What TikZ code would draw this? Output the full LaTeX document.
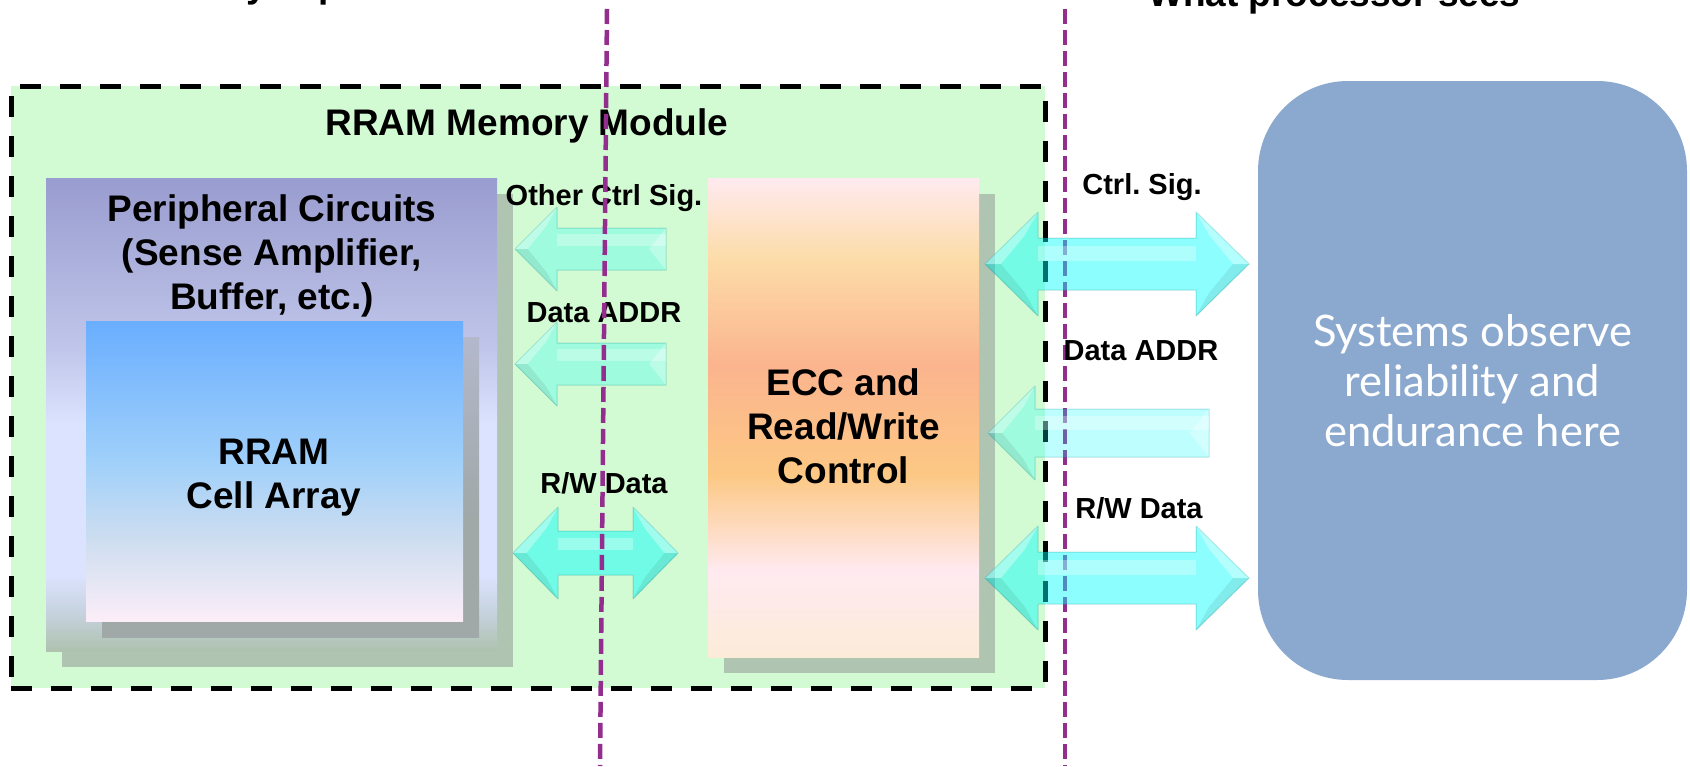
\documentclass[tikz,border=0pt]{standalone}
\usepackage{fontspec}
\setmainfont{Liberation Sans}
\newfontfamily\sysfont{Lato}
\usetikzlibrary{calc}
\frenchspacing

\definecolor{modgreen}{HTML}{D3FBD3}
\definecolor{shadowgreen}{HTML}{B0C5B1}
\definecolor{divider}{HTML}{932E8F}
\definecolor{sysblue}{HTML}{8BA9CF}
\definecolor{flow}{HTML}{00FCFC}
% peripheral block gradient
\definecolor{pA}{HTML}{999CCF}
\definecolor{pB}{HTML}{C0C6EA}
\definecolor{pC}{HTML}{DCE3FE}
\definecolor{pD}{HTML}{C6D2DE}
\definecolor{pE}{HTML}{AEC2AF}
% cell array gradient
\definecolor{cA}{HTML}{6AAEFF}
\definecolor{cB}{HTML}{A0D0FA}
\definecolor{cC}{HTML}{CCDDF0}
\definecolor{cD}{HTML}{FCEEF8}
% cell array shadow
\definecolor{sA}{HTML}{B4B8CC}
\definecolor{sB}{HTML}{A0A8A8}
% ECC block gradient
\definecolor{eA}{HTML}{FFEAF0}
\definecolor{eB}{HTML}{FCDCA8}
\definecolor{eC}{HTML}{FBB48E}
\definecolor{eD}{HTML}{FCC884}
\definecolor{eE}{HTML}{FFEAF0}
\definecolor{eF}{HTML}{FCEBD8}

\pgfdeclareverticalshading{periphfade}{100bp}{color(0bp)=(pE); color(25bp)=(pE); color(29bp)=(pD); color(33bp)=(pC); color(49bp)=(pC); color(57bp)=(pB); color(75bp)=(pA); color(100bp)=(pA)}
\pgfdeclareverticalshading{cellfade}{100bp}{color(0bp)=(cD); color(25bp)=(cD); color(39bp)=(cC); color(51.5bp)=(cB); color(75bp)=(cA); color(100bp)=(cA)}
\pgfdeclareverticalshading{cellshadowfade}{100bp}{color(0bp)=(sB); color(25bp)=(sB); color(45bp)=(sB); color(75bp)=(sA); color(100bp)=(sA)}
\pgfdeclareverticalshading{eccfade}{100bp}{color(0bp)=(eF); color(25bp)=(eF); color(34bp)=(eE); color(44bp)=(eD); color(55.5bp)=(eC); color(66.5bp)=(eB); color(75bp)=(eA); color(100bp)=(eA)}

\tikzset{
  lbl/.style={font=\bfseries\fontsize{29}{34}\selectfont, inner sep=0pt, anchor=base},
  heading/.style={font=\bfseries\fontsize{37}{44}\selectfont, inner sep=0pt},
  blocktext/.style={font=\bfseries\fontsize{37}{44}\selectfont, align=center, inner sep=0pt},
  panel/.style={anchor=north west, inner sep=0pt, outer sep=0pt},
  divline/.style={draw=divider, line width=4.5pt, dash pattern=on 15pt off 6pt},
  flowbody/.style={fill=flow, draw=flow!55!black, draw opacity=0.25, line width=1pt, line join=round},
  flowshine/.style={fill=white, fill opacity=0.3},
}

% facets on an arrow head: tip, direction (+1 right, -1 left), head length, head half-height
\newcommand\headfacets[4]{%
  \path[fill=white, fill opacity=0.35] let \p2=(#1) in
    (\p2) -- ({\x2-(#2)*#3},{\y2+#4}) -- ({\x2-(#2)*0.75*#3},{\y2+0.55*#4}) -- ({\x2-(#2)*0.3*#3},\y2) -- cycle;
  \path[fill=black, fill opacity=0.07] let \p2=(#1) in
    (\p2) -- ({\x2-(#2)*#3},{\y2-#4}) -- ({\x2-(#2)*0.75*#3},{\y2-0.55*#4}) -- ({\x2-(#2)*0.3*#3},\y2) -- cycle;}

% block arrow with one head: tail, tip, direction, head length, head half-height, shaft half-height, opacity
\newcommand\flowsingle[7]{%
  \path[flowbody, fill opacity=#7] let \p1=(#1), \p2=(#2) in
    (\p2) -- ({\x2-(#3)*#4},{\y2+#5}) -- ({\x2-(#3)*#4},{\y2+#6}) -- (\x1,{\y1+#6})
    -- (\x1,{\y1-#6}) -- ({\x2-(#3)*#4},{\y2-#6}) -- ({\x2-(#3)*#4},{\y2-#5}) -- cycle;
  \path[flowshine] let \p1=(#1), \p2=(#2) in
    ({\x2-(#3)*#4},{\y2+0.12*#6}) rectangle (\x1,{\y1+0.7*#6});
  \path[flowshine] let \p1=(#1) in
    (\x1,{\y1+#6}) -- ({\x1+(#3)*0.8*#6},\y1) -- (\x1,{\y1-#6}) -- cycle;
  \headfacets{#2}{#3}{#4}{#5}}

% block arrow with two heads: left end, right end, head length, head half-height, shaft half-height, opacity
\newcommand\flowdouble[6]{%
  \path[flowbody, fill opacity=#6] let \p1=(#1), \p2=(#2) in
    (\p1) -- ({\x1+#3},{\y1+#4}) -- ({\x1+#3},{\y1+#5}) -- ({\x2-#3},{\y2+#5}) -- ({\x2-#3},{\y2+#4})
    -- (\p2) -- ({\x2-#3},{\y2-#4}) -- ({\x2-#3},{\y2-#5}) -- ({\x1+#3},{\y1-#5}) -- ({\x1+#3},{\y1-#4}) -- cycle;
  \path[flowshine] let \p1=(#1), \p2=(#2) in
    ({\x1+#3},{\y1+0.12*#5}) rectangle ({\x2-#3},{\y2+0.7*#5});
  \headfacets{#1}{-1}{#3}{#4}%
  \headfacets{#2}{1}{#3}{#4}}

\begin{document}
\begin{tikzpicture}[x=1pt,y=-1pt]
\useasboundingbox (0,0) rectangle (1690,766);
\clip (0,0) rectangle (1690,766);

% column headings along the top edge
\node[heading, anchor=base west] (memtitle) at (22,-3) {What memory experiences};
\node[heading, anchor=base west] (proctitle) at (1148,6) {What processor sees};

% memory module outline
\node[panel, fill=modgreen, draw=black, line width=5pt, dash pattern=on 21pt off 19pt,
      minimum width=1034pt, minimum height=602pt] (module) at (11,86) {};
\node[heading, anchor=base] (modtitle) at (527,135) {RRAM Memory Module};

% boundary between the module and the processor
\coordinate (divB-top) at (1065,9);
\coordinate (divB-bot) at (1065,766);
\draw[divline] (divB-top) -- (divB-bot);

% peripheral circuits
\node[panel, fill=shadowgreen, minimum width=451pt, minimum height=473pt] (periph-shadow) at (62,194) {};
\node[panel, shading=periphfade, minimum width=451pt, minimum height=473pt] (periph) at (46,178) {};
\node[blocktext] (periph-text) at (272,256) {Peripheral Circuits\\(Sense Amplifier,\\Buffer, etc.)};

% cell array
\node[panel, shading=cellshadowfade, minimum width=377pt, minimum height=300pt] (cells-shadow) at (102,337) {};
\node[panel, shading=cellfade, minimum width=377pt, minimum height=300pt] (cells) at (86,321) {};
\node[blocktext] (cells-text) at (274,478) {RRAM\\Cell Array};

% ECC and read/write control
\node[panel, fill=shadowgreen, minimum width=271pt, minimum height=479pt] (ecc-shadow) at (724,194) {};
\node[panel, shading=eccfade, minimum width=271pt, minimum height=479pt] (ecc) at (708,178) {};
\node[blocktext] (ecc-text) at (843.5,426.5) {ECC and\\Read/Write\\Control};

% processor side
\node[panel, fill=sysblue, rounded corners=90pt, minimum width=429pt, minimum height=599pt,
      text=white, font=\sysfont\fontsize{43.5}{50}\selectfont, align=center] (sys)
      at (1258,81) {Systems observe\\reliability and\\endurance here};

% arrow end points
\coordinate (ctrlL-tail) at (666,249);  \coordinate (ctrlL-tip) at (515,249);
\coordinate (addrL-tail) at (666,364);  \coordinate (addrL-tip) at (515,364);
\coordinate (rwL-a) at (513,553);       \coordinate (rwL-b) at (678,553);
\coordinate (ctrlR-a) at (985,264);     \coordinate (ctrlR-b) at (1249,264);
\coordinate (addrR-tail) at (1209,433); \coordinate (addrR-tip) at (988,433);
\coordinate (rwR-a) at (985,578);       \coordinate (rwR-b) at (1249,578);

% signals between ECC block and peripheral circuits
\flowsingle{ctrlL-tail}{ctrlL-tip}{-1}{42pt}{42pt}{21pt}{0.25}
\flowsingle{addrL-tail}{addrL-tip}{-1}{42pt}{42pt}{21pt}{0.25}
\flowdouble{rwL-a}{rwL-b}{45pt}{46pt}{22pt}{0.47}

% signals between module and processor
\flowdouble{ctrlR-a}{ctrlR-b}{53pt}{52pt}{26pt}{0.45}
\flowsingle{addrR-tail}{addrR-tip}{-1}{47pt}{47pt}{24pt}{0.25}
\flowdouble{rwR-a}{rwR-b}{53pt}{52pt}{26pt}{0.45}

% signal labels
\node[lbl] (ctrlL-label) at (604,205) {Other Ctrl Sig.};
\node[lbl] (addrL-label) at (604,322) {Data ADDR};
\node[lbl] (rwL-label) at (604,493) {R/W Data};
\node[lbl] (ctrlR-label) at (1142,194) {Ctrl. Sig.};
\node[lbl] (addrR-label) at (1141,360) {Data ADDR};
\node[lbl] (rwR-label) at (1139,518) {R/W Data};

% boundary inside the module
\coordinate (divA-top) at (607,9);
\coordinate (divA-bot) at (600,766);
\draw[divline] (divA-top) -- (divA-bot);
\end{tikzpicture}
\end{document}
